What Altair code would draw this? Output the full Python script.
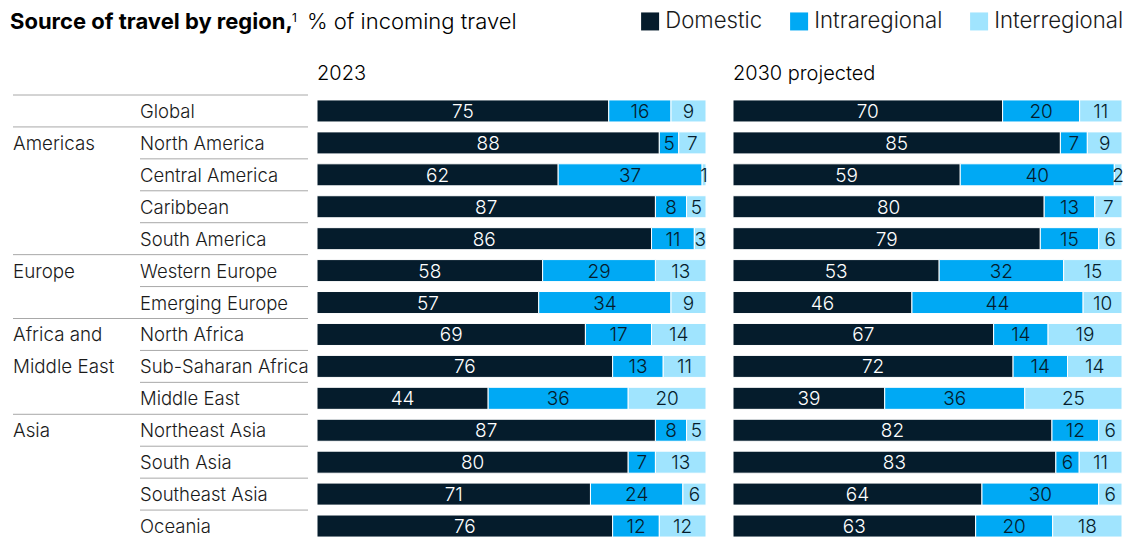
import altair as alt
import pandas as pd

FONT = "Inter"
TEXT = "#1a1a1a"
RULE = "#a8a8a8"
LIGHT = 300

regions = ["Global", "North America", "Central America", "Caribbean", "South America",
           "Western Europe", "Emerging Europe", "North Africa", "Sub-Saharan Africa",
           "Middle East", "Northeast Asia", "South Asia", "Southeast Asia", "Oceania"]
group_start = ["Global", "North America", "Western Europe", "North Africa", "Northeast Asia"]
group_rows = ["North America", "Western Europe", "North Africa", "Sub-Saharan Africa", "Northeast Asia"]
group_texts = ["Americas", "Europe", "Africa and", "Middle East", "Asia"]

types = ["Domestic", "Intraregional", "Interregional"]
colors = ["#051C2C", "#00A9F4", "#A0E4FE"]

domestic_2023 = [75, 88, 62, 87, 86, 58, 57, 69, 76, 44, 87, 80, 71, 76]
intra_2023 = [16, 5, 37, 8, 11, 29, 34, 17, 13, 36, 8, 7, 24, 12]
inter_2023 = [9, 7, 1, 5, 3, 13, 9, 14, 11, 20, 5, 13, 6, 12]
domestic_2030 = [70, 85, 59, 80, 79, 53, 46, 67, 72, 39, 82, 83, 64, 63]
intra_2030 = [20, 7, 40, 13, 15, 32, 44, 14, 14, 36, 12, 6, 30, 20]
inter_2030 = [11, 9, 2, 7, 6, 15, 10, 19, 14, 25, 6, 11, 6, 18]

rows = []
for period, series in [("2023", [domestic_2023, intra_2023, inter_2023]),
                       ("2030", [domestic_2030, intra_2030, inter_2030])]:
    for k, t in enumerate(types):
        for r, v in zip(regions, series[k]):
            rows.append(dict(period=period, region=r, type=t, value=v, order=k))
df = pd.DataFrame(rows)

left_df = pd.DataFrame({"region": regions, "start": [r in group_start for r in regions]})
group_df = pd.DataFrame({"region": group_rows, "glabel": group_texts})

W_LEFT = 277
RULE_END = 295
W_BAR = 389
H = 447


def yenc(**kw):
    return alt.Y("region:N", sort=regions, axis=None,
                 scale=alt.Scale(domain=regions, paddingInner=0, paddingOuter=0), **kw)


def one_text(txt, **mk):
    return alt.Chart(pd.DataFrame({"t": [txt]})).mark_text(font=FONT, **mk)


# ----- left label panel -----
title_bold = one_text("Source of travel by region,", align="left", baseline="top", fontSize=22,
                      fontWeight="bold", color="#000000").encode(
    x=alt.value(-3), y=alt.value(-83), text="t:N")
title_sup = one_text("1", align="left", baseline="top", fontSize=12, color="#000000").encode(
    x=alt.value(279), y=alt.value(-82), text="t:N")
title_reg = one_text("% of incoming travel", align="left", baseline="top", fontSize=22,
                     fontWeight=LIGHT, color="#000000").encode(
    x=alt.value(294), y=alt.value(-83), text="t:N")

rules_full = alt.Chart(left_df).transform_filter("datum.start").mark_rule(
    color=RULE, strokeWidth=1).encode(
    x=alt.value(0), x2=alt.value(RULE_END), y=yenc(bandPosition=0))
rules_part = alt.Chart(left_df).transform_filter("!datum.start").mark_rule(
    color=RULE, strokeWidth=1).encode(
    x=alt.value(127), x2=alt.value(RULE_END), y=yenc(bandPosition=0))
region_text = alt.Chart(left_df).mark_text(
    font=FONT, fontSize=18.5, fontWeight=LIGHT, align="left", baseline="middle",
    color=TEXT, dy=1).encode(
    x=alt.value(127), y=yenc(), text="region:N")
group_text = alt.Chart(group_df).mark_text(
    font=FONT, fontSize=18.8, fontWeight=LIGHT, align="left", baseline="middle",
    color=TEXT, dy=1).encode(
    x=alt.value(0), y=yenc(), text="glabel:N")

left = alt.layer(title_bold, title_sup, title_reg, rules_full, rules_part,
                 region_text, group_text).properties(width=W_LEFT, height=H)


# ----- bar panels -----
def bar_panel(period, header):
    base = alt.Chart(df).transform_filter(alt.datum.period == period)
    xs = alt.Scale(domain=[0, 1], nice=False, zero=True)
    bars = base.mark_bar(height={"band": 0.69}, stroke="white", strokeWidth=1).encode(
        x=alt.X("value:Q", stack="normalize", axis=None, scale=xs),
        y=yenc(),
        color=alt.Color("type:N", sort=types,
                        scale=alt.Scale(domain=types, range=colors),
                        legend=alt.Legend(title=None, orient="none", legendX=626, legendY=-85,
                                          direction="horizontal", symbolType="square",
                                          symbolSize=324, symbolStrokeWidth=0,
                                          labelFontSize=22.2, labelFont=FONT,
                                          labelFontWeight=LIGHT, labelColor=TEXT,
                                          labelOffset=4, columnPadding=25, labelLimit=300)),
        order=alt.Order("order:Q"),
    )
    labels = base.transform_joinaggregate(
        total="sum(value)", groupby=["region"]
    ).transform_window(
        cum="sum(value)", groupby=["region"], sort=[alt.SortField("order")], frame=[None, 0]
    ).transform_calculate(
        mid="(datum.cum - datum.value / 2) / datum.total"
    ).mark_text(font=FONT, fontSize=19, fontWeight=LIGHT, baseline="middle",
                align="center", dy=1).encode(
        x=alt.X("mid:Q", axis=None, scale=xs),
        y=yenc(),
        text="value:Q",
        color=alt.condition(alt.datum.type == "Domestic", alt.value("#ffffff"), alt.value("#051C2C")),
    )
    head = one_text(header, align="left", baseline="middle", fontSize=20, fontWeight=LIGHT,
                    color="#000000").encode(
        x=alt.value(0), y=alt.value(-21), text="t:N")
    return alt.layer(bars, labels, head).properties(width=W_BAR, height=H)


p23 = bar_panel("2023", "2023")
p30 = bar_panel("2030", "2030 projected")

chart = alt.hconcat(
    left, p23, p30, spacing=27, bounds="flush"
).properties(
    padding={"left": 2, "top": 2, "right": 0, "bottom": 0}
).configure_view(stroke=None)

chart.save("out.html", embed_options={"renderer": "svg", "actions": False})
